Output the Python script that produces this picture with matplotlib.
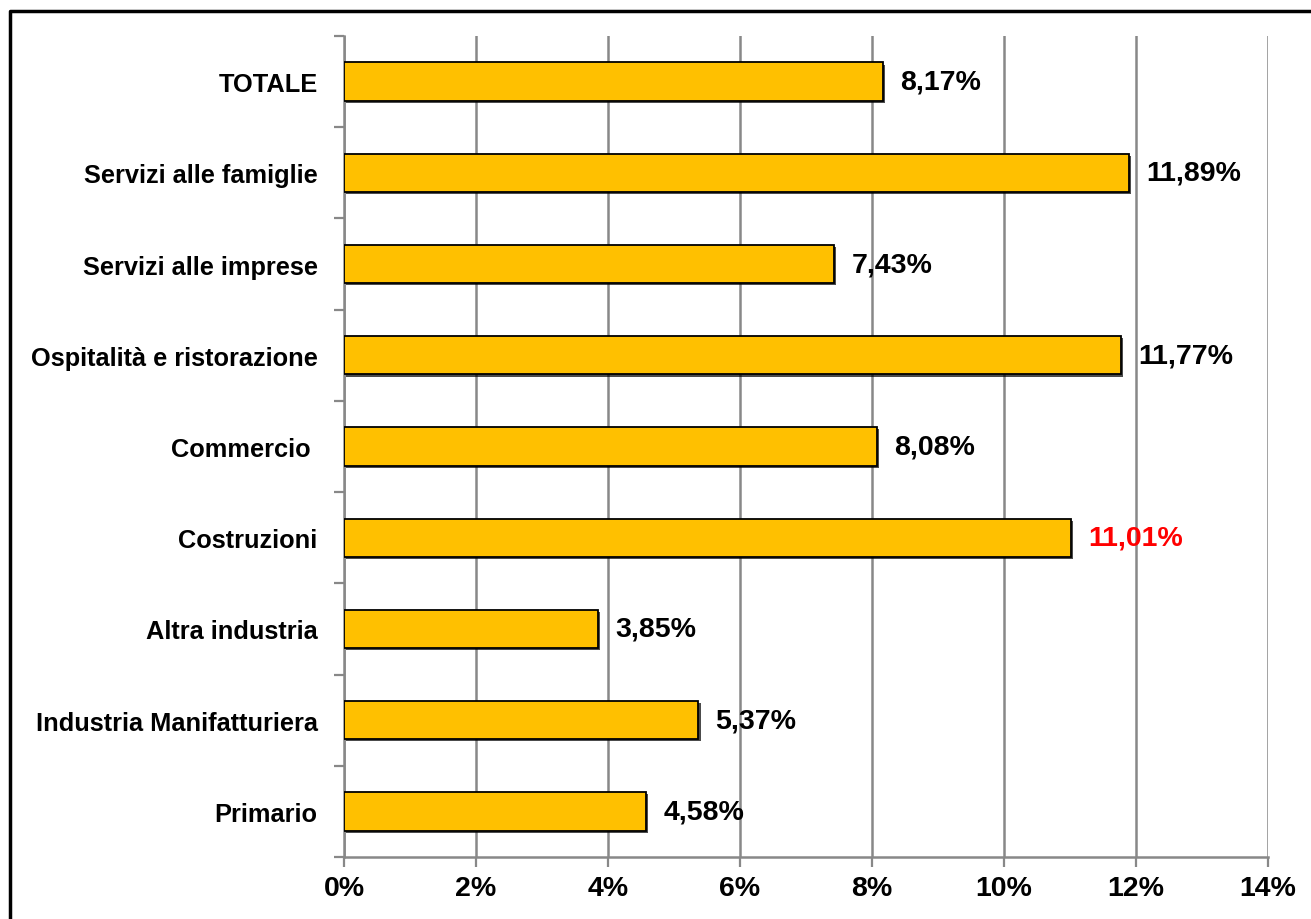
import matplotlib.pyplot as plt
import matplotlib.patheffects as pe
from matplotlib.lines import Line2D
import numpy as np

plt.rcParams['font.family'] = ['Liberation Sans', 'DejaVu Sans']

# data, top to bottom as in the picture
categories = ["TOTALE", "Servizi alle famiglie", "Servizi alle imprese",
              "Ospitalità e ristorazione", "Commercio ", "Costruzioni",
              "Altra industria", "Industria Manifatturiera", "Primario"]
values = [8.17, 11.89, 7.43, 11.77, 8.08, 11.01, 3.85, 5.37, 4.58]
label_colors = ["black", "black", "black", "black", "black", "red",
                "black", "black", "black"]
xticks = [0, 2, 4, 6, 8, 10, 12, 14]

# draw bottom to top
cats = categories[::-1]
vals = values[::-1]
cols = label_colors[::-1]
ypos = np.arange(len(cats))

fig = plt.figure(figsize=(13.11, 9.2), dpi=100)
ax = fig.add_axes([344/1311, 1-858/920, (1268-344)/1311, (858-37)/920])

grey = "#888888"
bars = ax.barh(ypos, vals, height=0.42, color="#FFC000", edgecolor="black",
               linewidth=1.3, zorder=3)
for b in bars:
    b.set_path_effects([pe.SimplePatchShadow(offset=(1.5, -1.5), shadow_rgbFace="black", alpha=0.7),
                        pe.Normal()])

for y, v, c in zip(ypos, vals, cols):
    txt = f"{v:.2f}".replace(".", ",") + "%"
    ax.text(v + 0.26, y, txt, va="center", ha="left", fontsize=20.5,
            fontweight="bold", color=c, zorder=4)

ax.set_xlim(0, 14)
ax.set_ylim(-0.5, len(cats) - 0.5)
ax.set_xticks(xticks)
ax.set_xticklabels([f"{t}%" for t in xticks], fontsize=20.5, fontweight="bold")

# category boundary ticks, labels at centers
ax.set_yticks(np.arange(-0.5, len(cats), 1.0))
ax.set_yticklabels([])
ax.set_yticks(ypos, minor=True)
ax.set_yticklabels(cats, minor=True, fontsize=18.3, fontweight="bold")
ax.tick_params(axis="y", which="major", length=7, width=1.6, color=grey)
ax.tick_params(axis="y", which="minor", length=0, pad=19)
ax.tick_params(axis="x", length=7, width=1.6, color=grey, pad=6)

ax.grid(axis="x", color=grey, linewidth=1.8, zorder=0)
ax.set_axisbelow(True)
for s in ["top", "right"]:
    ax.spines[s].set_visible(False)
for s in ["left", "bottom"]:
    ax.spines[s].set_color(grey)
    ax.spines[s].set_linewidth(1.8)

# outer frame (only top and left visible)
fig.add_artist(Line2D([9.5/1311, 9.5/1311, 1.0], [0.0, 1-11.5/920, 1-11.5/920],
                      transform=fig.transFigure, color="black", linewidth=2.5))

fig.savefig("out.png", dpi=100)
